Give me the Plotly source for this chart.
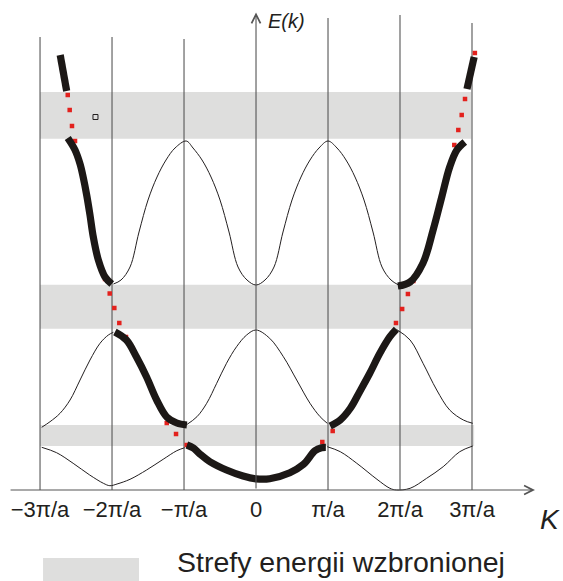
import plotly.graph_objects as go

# ---------------- data (k in units of pi/a, E in arbitrary units) ----------------
zone_k = [-3, -2, -1, 0, 1, 2, 3]
zone_labels = ["−3π/a", "−2π/a", "−π/a", "0", "π/a", "2π/a", "3π/a"]
zone_line_k = [-3, -2, -1, 1, 2, 3]
zone_line_top = [45.3, 45.3, 45.1, 47.2, 47.5, 46.7]

# forbidden energy gaps
gap_lo = [35.13, 16.13, 4.4]
gap_hi = [39.8, 20.53, 6.5]
gap_k0 = [-3.0, -3.0, -3.0]
gap_k1 = [2.99, 2.99, 3.03]

# thin curves (band images)
b1_left_k = [-2.977, -2.77, -2.54, -2.31, -2.12, -2.03, -1.93, -1.75, -1.52, -1.29, -1.10, -0.99]
b1_left_E = [4.27, 3.73, 2.67, 1.5, 0.67, 0.43, 0.6, 1.07, 2.0, 3.07, 3.93, 4.23]
b1_right_k = [0.99, 1.17, 1.40, 1.68, 1.86, 1.95, 2.14, 2.37, 2.60, 2.83, 3.01]
b1_right_E = [4.33, 3.83, 2.67, 1.07, 0.17, 0.0, 0.17, 1.17, 2.33, 3.83, 4.4]

b2_left_k = [-2.977, -2.861, -2.722, -2.583, -2.444, -2.306, -2.167, -2.051, -1.981]
b2_left_E = [6.27, 6.83, 7.67, 9.0, 11.0, 13.0, 14.67, 15.5, 15.77]
b2_mid_k = [-0.97, -0.82, -0.685, -0.546, -0.41, -0.27, -0.13, 0.0, 0.19, 0.38, 0.565, 0.75, 0.89, 0.99]
b2_mid_E = [6.5, 7.33, 8.67, 10.67, 12.67, 14.33, 15.5, 16.0, 15.17, 13.33, 11.0, 8.67, 7.33, 6.67]
b2_right_k = [1.95, 2.14, 2.32, 2.51, 2.69, 2.88, 3.01]
b2_right_E = [16.07, 15.0, 12.67, 10.0, 8.0, 7.0, 6.67]

b3_mid_k = [-1.98, -1.875, -1.75, -1.625, -1.5, -1.375, -1.25, -1.125, -0.97,
            -0.875, -0.75, -0.625, -0.5, -0.375, -0.25, -0.125, 0.0,
            0.125, 0.25, 0.375, 0.5, 0.625, 0.75, 0.875, 1.0,
            1.125, 1.25, 1.375, 1.5, 1.625, 1.75, 1.875, 1.98]
b3_mid_E = [20.6, 21.0, 22.3, 25.8, 29.0, 31.3, 33.0, 34.2, 34.9,
            34.2, 33.0, 31.3, 29.0, 25.8, 22.3, 21.0, 20.5,
            21.0, 22.3, 25.8, 29.0, 31.3, 33.0, 34.2, 34.9,
            34.2, 33.0, 31.3, 29.0, 25.8, 22.3, 21.0, 20.5]

# thick curves (extended-zone scheme)
t1_k = [-0.96, -0.87, -0.78, -0.64, -0.41, -0.18, 0.0, 0.19, 0.47, 0.66, 0.82, 0.91, 0.97]
t1_E = [4.5, 4.2, 3.6, 2.83, 2.0, 1.4, 1.12, 1.13, 1.73, 2.57, 3.93, 4.23, 4.27]
t2_left_k = [-1.96, -1.80, -1.66, -1.52, -1.38, -1.24, -1.10, -0.96]
t2_left_E = [15.8, 15.0, 13.3, 11.3, 9.0, 7.3, 6.7, 6.5]
t2_right_k = [1.03, 1.17, 1.31, 1.44, 1.58, 1.72, 1.86, 1.95]
t2_right_E = [6.4, 7.0, 8.17, 9.83, 11.67, 13.67, 15.33, 16.07]
t3_left_k = [-2.615, -2.514, -2.444, -2.398, -2.352, -2.306, -2.26, -2.19, -2.097, -2.004]
t3_left_E = [35.2, 34.0, 32.6, 31.2, 29.5, 27.5, 25.3, 23.0, 21.3, 20.6]
t3_right_k = [1.97, 2.14, 2.32, 2.46, 2.58, 2.69, 2.79, 2.90]
t3_right_E = [20.4, 20.8, 22.7, 26.0, 29.3, 32.3, 34.0, 34.8]
t4_left_k = [-2.72, -2.63]
t4_left_E = [43.5, 39.9]
t4_right_k = [2.93, 3.03]
t4_right_E = [40.1, 43.3]

# free-electron parabola (red dots)
free_k = [-2.615, -2.588, -2.556, -2.514, -2.097, -2.032, -1.968, -1.899, -1.806,
          -1.24, -1.111, -0.963, 0.921, 1.065, 1.944, 2.03, 2.11, 2.185,
          2.754, 2.81, 2.857, 2.903, 3.04]
free_E = [39.5, 38.0, 36.4, 34.9, 21.1, 19.65, 18.2, 16.7, 15.3,
          6.7, 5.6, 4.5, 4.8, 5.9, 16.7, 18.1, 19.6, 20.9,
          34.5, 36.0, 37.5, 39.1, 43.7]

marker_k = [-2.23]
marker_E = [37.3]

legend_text = "Strefy energii wzbronionej"
x_label = "K"
y_label = "E(k)"

# ---------------- figure ----------------
INK = "#231f20"
THICK = "#1c1816"
FONT = "Liberation Sans, Arial"
fig = go.Figure()

# gap bands
for lo, hi, k0, k1 in zip(gap_lo, gap_hi, gap_k0, gap_k1):
    fig.add_shape(type="rect", xref="x", yref="y", x0=k0, x1=k1, y0=lo, y1=hi,
                  fillcolor="#dededd", line_width=0, layer="below")

# legend swatch
fig.add_shape(type="rect", xref="x", yref="y", x0=-2.958, x1=-1.625, y0=-9.6, y1=-6.8,
              fillcolor="#dededd", line_width=0, layer="below")

# zone boundary lines
vx, vy = [], []
for k, top in zip(zone_line_k, zone_line_top):
    vx += [k, k, None]
    vy += [0, top, None]
fig.add_trace(go.Scatter(x=vx, y=vy, mode="lines", line=dict(color="#555555", width=1.1),
                         hoverinfo="skip", showlegend=False))

thin = [(b1_left_k, b1_left_E), (b1_right_k, b1_right_E),
        (b2_left_k, b2_left_E), (b2_mid_k, b2_mid_E), (b2_right_k, b2_right_E),
        (b3_mid_k, b3_mid_E)]
for kk, ee in thin:
    fig.add_trace(go.Scatter(x=kk, y=ee, mode="lines", line=dict(color=INK, width=1, shape="spline"),
                             hoverinfo="skip", showlegend=False))

fig.add_trace(go.Scatter(x=free_k, y=free_E, mode="markers",
                         marker=dict(symbol="square", size=4.5, color="#e3211d"),
                         hoverinfo="skip", showlegend=False))

thick = [(t1_k, t1_E), (t2_left_k, t2_left_E), (t2_right_k, t2_right_E),
         (t3_left_k, t3_left_E), (t3_right_k, t3_right_E),
         (t4_left_k, t4_left_E), (t4_right_k, t4_right_E)]
for kk, ee in thick:
    fig.add_trace(go.Scatter(x=kk, y=ee, mode="lines", line=dict(color=THICK, width=7.2, shape="spline"),
                             hoverinfo="skip", showlegend=False))

fig.add_trace(go.Scatter(x=marker_k, y=marker_E, mode="markers",
                         marker=dict(symbol="square-open", size=5, color=INK, line=dict(width=1)),
                         hoverinfo="skip", showlegend=False))

# axes arrows
fig.add_annotation(x=3.875, y=0, ax=-3.43, ay=0, xref="x", yref="y", axref="x", ayref="y",
                   text="", showarrow=True, arrowhead=5, arrowsize=1.6, arrowwidth=1.1,
                   arrowcolor="#555555")
fig.add_annotation(x=0, y=47.75, ax=0, ay=0, xref="x", yref="y", axref="x", ayref="y",
                   text="", showarrow=True, arrowhead=5, arrowsize=1.6, arrowwidth=1.1,
                   arrowcolor="#555555")

fig.add_annotation(x=0.14, y=46.9, xref="x", yref="y", text="<i>" + y_label + "</i>",
                   showarrow=False, xanchor="left", yanchor="middle",
                   font=dict(family=FONT, size=20, color=INK))
fig.add_annotation(x=3.92, y=-2.9, xref="x", yref="y", text="<i>" + x_label + "</i>",
                   showarrow=False, xanchor="left", yanchor="middle",
                   font=dict(family=FONT, size=28, color=INK))
fig.add_annotation(x=-1.125, y=-7.15, xref="x", yref="y", text=legend_text,
                   showarrow=False, xanchor="left", yanchor="middle",
                   font=dict(family=FONT, size=28.5, color=INK))

fig.update_layout(
    width=563, height=581,
    margin=dict(l=0, r=0, t=0, b=0),
    paper_bgcolor="white", plot_bgcolor="white",
    showlegend=False,
    xaxis=dict(range=[-3.556, 4.264], anchor="free", position=91 / 581,
               showline=False, showgrid=False, zeroline=False,
               tickmode="array", tickvals=zone_k, ticktext=zone_labels, ticks="",
               ticklabelstandoff=4,
               tickfont=dict(family=FONT, size=22, color=INK),
               fixedrange=True),
    yaxis=dict(range=[-9.1, 49.0], visible=False, fixedrange=True),
)

fig.write_html("out.html", config={"displayModeBar": False},
               post_script="document.body.style.margin='0';document.body.style.overflow='hidden';")
